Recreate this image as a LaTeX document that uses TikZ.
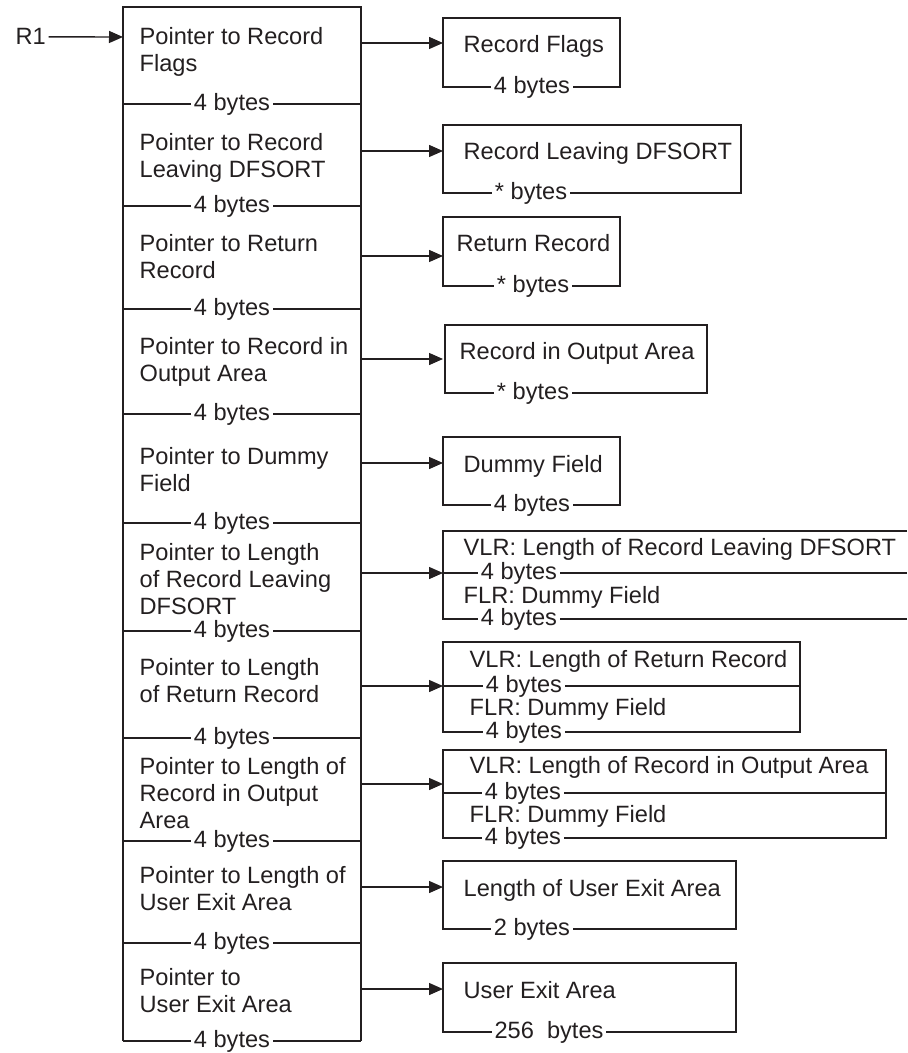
\documentclass[tikz,border=0pt]{standalone}
\usepackage{fontspec}
\setmainfont{Liberation Sans}
\usetikzlibrary{arrows.meta}
\definecolor{ink}{HTML}{231F20}
\tikzset{
  txt/.style={anchor=base west, inner sep=0pt, align=left},
  lbl/.style={fill=white, inner sep=1.5pt},
  ptr/.style={-{Triangle[length=7pt,width=6pt]}}
}
\begin{document}
\begin{tikzpicture}[x=0.5pt,y=-0.5pt,line width=0.7pt,draw=ink,text=ink,
    font=\fontsize{11.8}{13.5}\selectfont]
  \useasboundingbox (0,0) rectangle (907,1053);
  % pointer list (node base = last line)
  \draw (123,1041) -- (123,7) -- (361,7) -- (361,1041);
  \foreach \y [count=\i] in {104,206,309,414,523,631,738,841,943,1041} {
    \draw (123,\y) -- (361,\y);
    \node[lbl] (b\i) at (232,\y) {4 bytes};
  }
  \node[txt] (p1) at (139,72) {Pointer to Record\\Flags};
  \node[txt] (p2) at (139,178) {Pointer to Record\\Leaving DFSORT};
  \node[txt] (p3) at (139,279) {Pointer to Return\\Record};
  \node[txt] (p4) at (139,381) {Pointer to Record in\\Output Area};
  \node[txt] (p5) at (139,491) {Pointer to Dummy\\Field};
  \node[txt] (p6) at (139,614) {Pointer to Length\\of Record Leaving\\DFSORT};
  \node[txt] (p7) at (139,702) {Pointer to Length\\of Return Record};
  \node[txt] (p8) at (139,828) {Pointer to Length of\\Record in Output\\Area};
  \node[txt] (p9) at (139,910) {Pointer to Length of\\User Exit Area};
  \node[txt] (p10) at (139,1012) {Pointer to\\User Exit Area};
  % R1
  \node[anchor=base west, inner sep=1pt] (r1) at (13,45) {R1};
  \coordinate (c0) at (123,37);
  \draw[ptr] (r1.east) -- (c0);
  % arrows to the fields
  \foreach \y [count=\i] in {43,151,256,359,463,573,686,784,887,989} {
    \coordinate (o\i) at (361,\y);
    \coordinate (i\i) at (443,\y);
    \draw[ptr] (o\i) -- (i\i);
  }
  % fields
  \draw (443,87) -- (443,18) -- (620,18) -- (620,87) -- cycle;
  \node[txt] (f1) at (463,53) {Record Flags};
  \node[lbl] (s1) at (532,87) {4 bytes};
  \draw (443,193) -- (443,125) -- (741,125) -- (741,193) -- cycle;
  \node[txt] (f2) at (463,160) {Record Leaving DFSORT};
  \node[lbl] (s2) at (531,193) {* bytes};
  \draw (443,286) -- (443,217) -- (620,217) -- (620,286) -- cycle;
  \node[txt] (f3) at (456,252) {Return Record};
  \node[lbl] (s3) at (533,286) {* bytes};
  \draw (445,393) -- (445,325) -- (707,325) -- (707,393) -- cycle;
  \node[txt] (f4) at (459,359) {Record in Output Area};
  \node[lbl] (s4) at (533,393) {* bytes};
  \draw (443,505) -- (443,437) -- (620,437) -- (620,505) -- cycle;
  \node[txt] (f5) at (463,472) {Dummy Field};
  \node[lbl] (s5) at (532,505) {4 bytes};
  % length fields
  \draw (907,531) -- (443,531) -- (443,619) -- (907,619);
  \draw (443,573) -- (907,573);
  \node[txt] (f6) at (463,555) {VLR: Length of Record Leaving DFSORT};
  \node[lbl] (s6) at (519,573) {4 bytes};
  \node[txt] (g6) at (463,603) {FLR: Dummy Field};
  \node[lbl] (t6) at (519,619) {4 bytes};
  \draw (443,642) rectangle (800,732);
  \draw (443,686) -- (800,686);
  \node[txt] (f7) at (469,667) {VLR: Length of Return Record};
  \node[lbl] (s7) at (524,686) {4 bytes};
  \node[txt] (g7) at (469,715) {FLR: Dummy Field};
  \node[lbl] (t7) at (524,732) {4 bytes};
  \draw (443,750) rectangle (886,838);
  \draw (443,793) -- (886,793);
  \node[txt] (f8) at (469,773) {VLR: Length of Record in Output Area};
  \node[lbl] (s8) at (523,793) {4 bytes};
  \node[txt] (g8) at (469,822) {FLR: Dummy Field};
  \node[lbl] (t8) at (523,838) {4 bytes};
  % user exit area
  \draw (443,861) rectangle (736,929);
  \node[txt] (f9) at (463,896) {Length of User Exit Area};
  \node[lbl] (s9) at (532,929) {2 bytes};
  \draw (443,963) rectangle (736,1032);
  \node[txt] (f10) at (463,998) {User Exit Area};
  \node[lbl] (s10) at (549,1032) {256~ bytes};
\end{tikzpicture}
\end{document}
